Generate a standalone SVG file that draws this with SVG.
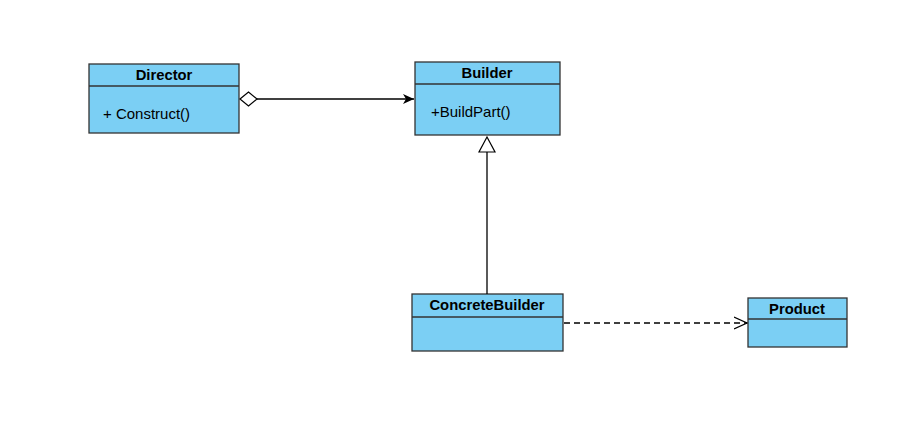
<svg xmlns="http://www.w3.org/2000/svg" width="924" height="426" viewBox="0 0 924 426">
<style>
.box{fill:#7BCFF4;stroke:#333;stroke-width:1.3}
.sep{stroke:#333;stroke-width:1.3}
.t{font-family:"Liberation Sans",Arial,sans-serif;font-size:15px;fill:#000}
.b{font-weight:bold;text-anchor:middle;font-size:14.8px}
.ln{stroke:#000;stroke-width:1.3;fill:none}
</style>
<defs>
<marker id="fa" markerWidth="12" markerHeight="10" refX="11" refY="5" orient="auto" markerUnits="userSpaceOnUse"><path d="M0,0 L11,5 L0,10 L3,5 Z" fill="#000"/></marker>
<marker id="oa" markerWidth="14" markerHeight="14" refX="13" refY="7" orient="auto" markerUnits="userSpaceOnUse"><path d="M0,1 L13,7 L0,13" fill="none" stroke="#000" stroke-width="1.2"/></marker>
</defs>
<rect width="924" height="426" fill="#fff"/>
<g id="Director">
<rect class="box" x="89" y="64" width="150" height="69"/>
<line class="sep" x1="89" y1="86" x2="239" y2="86"/>
<text class="t b" x="164" y="80">Director</text>
<text class="t" x="103" y="119">+ Construct()</text>
</g>
<g id="Builder">
<rect class="box" x="415" y="62" width="145" height="73"/>
<line class="sep" x1="415" y1="84" x2="560" y2="84"/>
<text class="t b" x="487" y="78">Builder</text>
<text class="t" x="431" y="117">+BuildPart()</text>
</g>
<g id="ConcreteBuilder">
<rect class="box" x="412" y="294" width="151" height="57"/>
<line class="sep" x1="412" y1="317" x2="563" y2="317"/>
<text class="t b" x="487" y="310">ConcreteBuilder</text>
</g>
<g id="Product">
<rect class="box" x="748" y="298" width="99" height="49"/>
<line class="sep" x1="748" y1="319" x2="847" y2="319"/>
<text class="t b" x="797" y="314">Product</text>
</g>
<g id="connectors">
<path class="ln" d="M257,99 L414,99" marker-end="url(#fa)"/>
<path d="M240,99 L248.5,92 L257,99 L248.5,106 Z" fill="#fff" stroke="#000" stroke-width="1.2"/>
<path class="ln" d="M487,294 L487,152"/>
<path d="M487,137 L495,152 L479,152 Z" fill="#fff" stroke="#000" stroke-width="1.2"/>
<path class="ln" d="M564,323 L747,323" stroke-dasharray="6,4" marker-end="url(#oa)"/>
</g>
</svg>
